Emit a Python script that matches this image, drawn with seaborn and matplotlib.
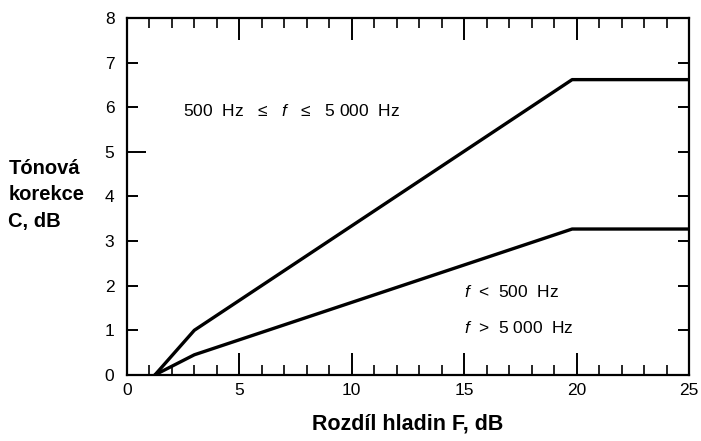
import matplotlib
matplotlib.use("Agg")
import matplotlib.pyplot as plt
import seaborn as sns
import pandas as pd
from matplotlib.ticker import MultipleLocator

# Data
upper_x = [1.25, 3.0, 19.8, 25.0]
upper_y = [0.0, 1.0, 6.62, 6.62]
lower_x = [1.25, 3.0, 19.8, 25.0]
lower_y = [0.0, 0.45, 3.27, 3.27]

x_ticks = [0, 5, 10, 15, 20, 25]
y_ticks = [0, 1, 2, 3, 4, 5, 6, 7, 8]

df = pd.concat([
    pd.DataFrame({"F": upper_x, "C": upper_y, "band": "500-5000"}),
    pd.DataFrame({"F": lower_x, "C": lower_y, "band": "other"}),
])

sns.set_theme(style="white")
plt.rcParams["font.family"] = ["Liberation Sans", "DejaVu Sans"]
plt.rcParams["text.color"] = "black"
plt.rcParams["axes.labelcolor"] = "black"
plt.rcParams["mathtext.fontset"] = "custom"
plt.rcParams["mathtext.it"] = "Liberation Sans:italic"
plt.rcParams["mathtext.rm"] = "Liberation Sans"

fig = plt.figure(figsize=(7.01, 4.41), dpi=100)
ax = fig.add_axes([0.181, 0.150, 0.802, 0.809])

sns.lineplot(data=df, x="F", y="C", units="band", estimator=None,
             color="black", linewidth=2.4, ax=ax, legend=False)

ax.set_xlim(0, 25)
ax.set_ylim(0, 8)
ax.set_xticks(x_ticks)
ax.set_yticks(y_ticks)
ax.xaxis.set_minor_locator(MultipleLocator(1))

for s in ax.spines.values():
    s.set_color("black")
    s.set_linewidth(1.6)

ax.tick_params(axis="x", which="major", direction="in", length=16, width=1.4,
               top=True, bottom=True, labelsize=12.5, pad=6, colors="black")
ax.tick_params(axis="x", which="minor", direction="in", length=7, width=1.4,
               top=True, bottom=True)
ax.tick_params(axis="y", which="major", direction="in", length=8, width=1.4,
               left=True, right=True, labelsize=12.5, pad=9, colors="black")
# longer tick at 5 on the left
ax.yaxis.get_major_ticks()[5].tick1line.set_markersize(14)
ax.xaxis.get_major_ticks()[0].tick1line.set_markersize(0)
ax.xaxis.get_major_ticks()[0].tick2line.set_markersize(0)

ax.set_xlabel("Rozdíl hladin F, dB", fontsize=15.5, fontweight="bold", labelpad=11)
ax.set_ylabel("")
fig.text(0.012, 0.558, "Tónová\nkorekce\nC, dB", fontsize=14.5, fontweight="bold",
         ha="left", va="center", linespacing=1.5)

ax.text(2.5, 5.92, "500  Hz   \u2264   $f$   \u2264   5 000  Hz", fontsize=12.5,
        ha="left", va="center")
ax.text(15.0, 1.86, "$f$  <  500  Hz", fontsize=12.5, ha="left", va="center")
ax.text(15.0, 1.05, "$f$  >  5 000  Hz", fontsize=12.5, ha="left", va="center")

fig.savefig("out.png", dpi=100, facecolor="white")
